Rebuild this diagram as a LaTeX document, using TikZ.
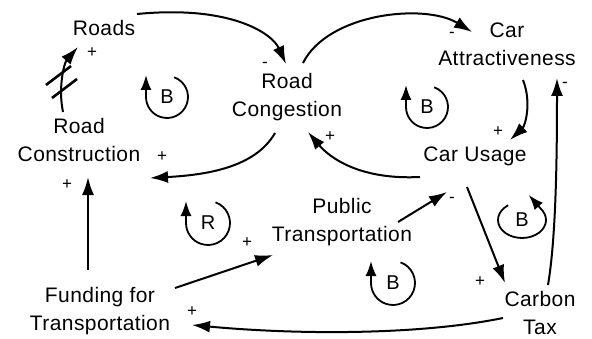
\documentclass[tikz,border=0pt]{standalone}
\usepackage{fontspec}
\usetikzlibrary{arrows.meta}
\newfontfamily\cldfont{Liberation Sans}[LetterSpace=2]

\begin{document}
\begin{tikzpicture}[x=1pt, y=1pt, >={Latex[length=18pt,width=12pt]},
	var/.style={align=center, inner sep=0pt, font=\cldfont\fontsize{21}{28}\selectfont},
	sgn/.style={inner sep=0pt, font=\cldfont\fontsize{17}{17}\selectfont},
	link/.style={line width=2pt, ->},
	loopmark/.style={inner sep=0pt, font=\cldfont\fontsize{20}{20}\selectfont},
	looparc/.style={line width=1.8pt, -{Latex[length=15pt,width=11pt]}}]

				\useasboundingbox (0,0) rectangle (592,338);

				\node[var] (roads) at (104,310) {Roads};
				\node[var] (congestion) at (287,241) {Road\\Congestion};
				\node[var] (construction) at (79,198) {Road\\Construction};
				\node[var] (attract) at (507,294) {Car\\Attractiveness};
				\node[var] (usage) at (475,182) {Car Usage};
				\node[var] (public) at (342,116) {Public\\Transportation};
				\node[var] (carbon) at (540,25) {Carbon\\Tax};
				\node[var] (funding) at (100,27) {Funding for\\Transportation};

				\draw[link] ([shift={(-16,28)}]construction.center) .. controls +(-5,24) and +(-14,-16) .. ([shift={(-26,-19)}]roads.center);
				\draw[link] ([shift={(33,14)}]roads.center) .. controls +(93,9) and +(-14,31) .. ([shift={(-1,33)}]congestion.center);
				\draw[link] ([shift={(-12,-36)}]congestion.center) .. controls +(-20,-35) and +(55,3) .. ([shift={(71,-38)}]construction.center);
				\draw[link] ([shift={(16,34)}]congestion.center) .. controls +(25,50) and +(-47,29) .. ([shift={(-35,12)}]attract.center);
				\draw[link] ([shift={(16,-36)}]attract.center) .. controls +(9,-23) and +(15,14) .. ([shift={(35,16)}]usage.center);
				\draw[link] ([shift={(8,28)}]carbon.center) .. controls +(8,47) and +(0,-80) .. ([shift={(50,-34)}]attract.center);
				\draw[link] ([shift={(-55,-21)}]usage.center) .. controls +(-60,-3) and +(22,-26) .. ([shift={(21,-35)}]congestion.center);
				\draw[link] ([shift={(-8,-31)}]usage.center) -- ([shift={(-35,30)}]carbon.center);
				\draw[link] ([shift={(56,0)}]public.center) -- ([shift={(-28,-36)}]usage.center);
				\draw[link] ([shift={(75,23)}]funding.center) -- ([shift={(-69,-33)}]public.center);
				\draw[link] ([shift={(-12,41)}]funding.center) -- ([shift={(9,-37)}]construction.center);
				\draw[link] ([shift={(-37,-5)}]carbon.center) .. controls +(-83,-17) and +(108,-10) .. ([shift={(92,-14)}]funding.center);

				\draw[line width=2.6pt] (46,253) -- (71,272);
				\draw[line width=2.6pt] (52,240) -- (77,259);

				\node[sgn] (s1) at (92,285) {+};
				\node[sgn] (s2) at (265,273) {-};
				\node[sgn] (s3) at (162,181) {+};
				\node[sgn] (s4) at (452,303) {-};
				\node[sgn] (s5) at (498,206) {+};
				\node[sgn] (s6) at (565,253) {-};
				\node[sgn] (s7) at (330,201) {+};
				\node[sgn] (s8) at (452,138) {-};
				\node[sgn] (s9) at (480,56) {+};
				\node[sgn] (s10) at (67,153) {+};
				\node[sgn] (s11) at (247,95) {+};
				\node[sgn] (s12) at (192,26) {+};

				\node[loopmark] (loop1) at (167,241) {B};
				\node[loopmark] (loop2) at (427,231) {B};
				\node[loopmark] (loop3) at (522,118) {B};
				\node[loopmark] (loop4) at (208,115) {R};
				\node[loopmark] (loop5) at (393,55) {B};
				\draw[looparc] (loop1.center) ++(70:21pt) arc[start angle=70, end angle=-180, radius=21pt] -- ++(0,22);
				\draw[looparc] (loop2.center) ++(70:21pt) arc[start angle=70, end angle=-180, radius=21pt] -- ++(0,22);
				\draw[looparc] (loop4.center) ++(70:22pt) arc[start angle=70, end angle=-180, radius=22pt] -- ++(0,22);
				\draw[looparc] (loop5.center) ++(70:22pt) arc[start angle=70, end angle=-180, radius=22pt] -- ++(0,22);
				\draw[looparc] (loop3.center) ++(125:24pt and 18pt) arc[start angle=125, end angle=390, x radius=24pt, y radius=18pt] -- ++(-14,16);

\end{tikzpicture}
\end{document}
